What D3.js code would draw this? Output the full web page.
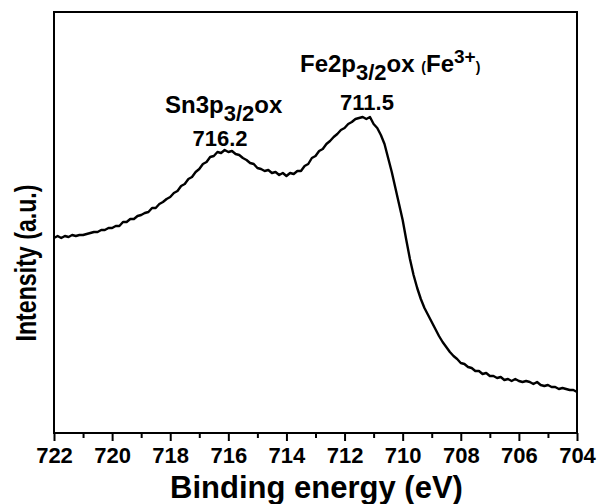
<!DOCTYPE html>
<html><head><meta charset="utf-8">
<script src="https://cdn.jsdelivr.net/npm/d3@7"></script>
<style>
body{margin:0;background:#fff}
svg{display:block}
text{font-family:"Liberation Sans",Arial,Helvetica,sans-serif;font-weight:bold;fill:#000}
</style>
</head><body>
<svg id="chart" width="597" height="504"></svg>
<script>
// ---- data ----
const energyStart = 722;      // eV, first sample
const energyStep = 0.125;     // eV between samples (descending)
const intensity = [
1950,1970,1950,1970,1960,1980,1970,1980,1980,1990,2000,2010,2010,2030,2030,2050,
2050,2070,2070,2110,2110,2140,2140,2170,2180,2200,2210,2250,2250,2290,2310,2340,
2360,2400,2420,2470,2490,2540,2560,2610,2640,2690,2710,2760,2770,2810,2800,2830,
2810,2820,2790,2780,2750,2730,2700,2690,2650,2640,2620,2630,2600,2610,2580,2600,
2570,2600,2590,2620,2620,2670,2690,2750,2770,2820,2840,2890,2920,2960,2990,3030,
3050,3090,3110,3140,3150,3160,3140,3160,3090,3050,2980,2890,2750,2610,2450,2290,
2130,1930,1740,1580,1450,1340,1250,1180,1110,1040,970,910,860,810,770,740,
700,690,660,650,620,620,590,600,570,570,550,560,530,540,520,540,
520,510,520,510,490,510,480,470,480,460,460,440,450,440,430,430,
410
];
const xTicks = [722,720,718,716,714,712,710,708,706,704];
const xMinorTicks = [721,719,717,715,713,711,709,707,705];
const xDomain = [722, 704];
const yDomain = [0, 4210];
const xTitle = "Binding energy (eV)";
const yTitle = "Intensity (a.u.)";
const peakEnergies = ["716.2", "711.5"];

// ---- layout ----
const W = 597, H = 504;
const m = {left: 54, right: 20, top: 12, bottom: 71};
const svg = d3.select("#chart");
const x = d3.scaleLinear().domain(xDomain).range([m.left, W - m.right]);
const y = d3.scaleLinear().domain(yDomain).range([H - m.bottom, m.top]);

const data = intensity.map((v, i) => ({e: energyStart - i * energyStep, v}));

// curve
svg.append("path")
  .datum(data)
  .attr("fill", "none")
  .attr("stroke", "#000")
  .attr("stroke-width", 2.4)
  .attr("stroke-linejoin", "round")
  .attr("d", d3.line().x(d => x(d.e)).y(d => y(d.v)));

// frame
svg.append("rect")
  .attr("x", m.left).attr("y", m.top)
  .attr("width", W - m.left - m.right).attr("height", H - m.top - m.bottom)
  .attr("fill", "none").attr("stroke", "#000").attr("stroke-width", 2);

// bottom axis
const gx = svg.append("g").attr("transform", `translate(0,${H - m.bottom})`);
gx.call(d3.axisBottom(x).tickValues(xMinorTicks).tickSize(5).tickFormat(""))
  .call(g => g.select(".domain").remove())
  .call(g => g.selectAll("line").attr("stroke-width", 2));
const gx2 = svg.append("g").attr("transform", `translate(0,${H - m.bottom})`);
gx2.call(d3.axisBottom(x).tickValues(xTicks).tickSize(8).tickPadding(6).tickFormat(d3.format("d")))
  .call(g => g.select(".domain").remove())
  .call(g => g.selectAll("line").attr("stroke-width", 2))
  .call(g => g.selectAll("text")
     .attr("font-size", 22).attr("fill", "#000")
     .attr("font-family", '"Liberation Sans",Arial,sans-serif').attr("font-weight", "bold"));

// axis titles
svg.append("text")
  .attr("x", (m.left + W - m.right) / 2 + 1).attr("y", 498)
  .attr("text-anchor", "middle").attr("font-size", 31)
  .text(xTitle);
svg.append("text")
  .attr("transform", "translate(36,263) rotate(-90)")
  .attr("text-anchor", "middle").attr("font-size", 30)
  .attr("textLength", 157).attr("lengthAdjust", "spacingAndGlyphs")
  .text(yTitle);

// annotations
const sn = svg.append("text").attr("x", 165).attr("y", 113).attr("font-size", 24);
sn.append("tspan").text("Sn3p");
sn.append("tspan").attr("dy", 8).attr("font-size", 22).text("3/2");
sn.append("tspan").attr("dy", -8).text("ox");
svg.append("text").attr("x", 220).attr("y", 146).attr("text-anchor", "middle")
  .attr("font-size", 22).text(peakEnergies[0]);

const fe = svg.append("text").attr("x", 300).attr("y", 72).attr("font-size", 24);
fe.append("tspan").text("Fe2p");
fe.append("tspan").attr("dy", 8).attr("font-size", 22).text("3/2");
fe.append("tspan").attr("dy", -8).text("ox ");
fe.append("tspan").attr("font-size", 14).text("(");
fe.append("tspan").text("Fe");
fe.append("tspan").attr("dy", -9).attr("font-size", 19).text("3+");
fe.append("tspan").attr("dy", 9).attr("font-size", 14).text(")");
svg.append("text").attr("x", 367).attr("y", 110).attr("text-anchor", "middle")
  .attr("font-size", 22).text(peakEnergies[1]);
</script>
</body></html>
